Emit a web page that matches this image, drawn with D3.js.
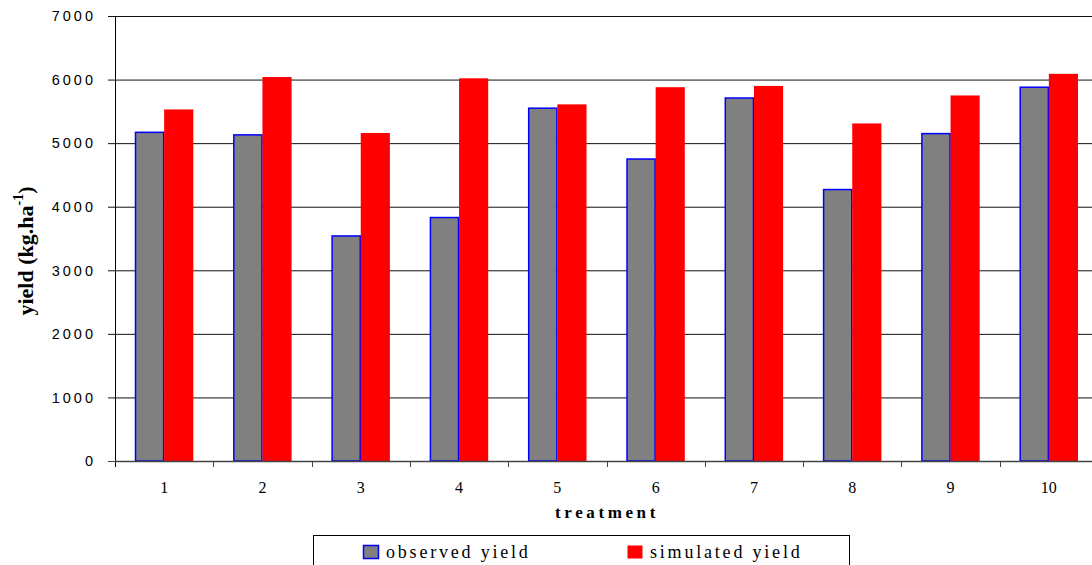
<!DOCTYPE html>
<html>
<head>
<meta charset="utf-8">
<script src="https://cdn.jsdelivr.net/npm/d3@7"></script>
<style>
  body { margin: 0; background: #fff; }
  svg { display: block; }
</style>
</head>
<body>
<div id="chart"></div>
<script>
// data
var treatments = ["1", "2", "3", "4", "5", "6", "7", "8", "9", "10"];
var observed = [5170, 5130, 3540, 3830, 5550, 4750, 5710, 4270, 5150, 5880];
var simulated = [5530, 6040, 5160, 6020, 5610, 5880, 5900, 5310, 5750, 6090];
var yTicks = [0, 1000, 2000, 3000, 4000, 5000, 6000, 7000];
var seriesNames = ["observed yield", "simulated yield"];

var width = 1092;
var height = 565;
var margin = {top: 16, right: -6, bottom: 104, left: 115};
var inner_width = width - margin.left - margin.right;
var inner_height = height - margin.top - margin.bottom;

var svg = d3.select("#chart")
            .append("svg")
            .attr("width", width)
            .attr("height", height);

var g = svg.append("g")
           .attr("transform", "translate(" + margin.left + "," + margin.top + ")");

var xScale = d3.scaleBand()
               .domain(treatments)
               .range([0, inner_width])
               .paddingInner(0)
               .paddingOuter(0);
var xInner = d3.scaleBand()
               .domain(["obs", "sim"])
               .range([20, xScale.bandwidth() - 20]);
var yScale = d3.scaleLinear()
               .domain([0, 7000])
               .range([inner_height, 0]);

// grid lines
g.selectAll(".grid")
 .data(yTicks)
 .enter().append("line")
 .attr("x1", -7)
 .attr("x2", inner_width)
 .attr("y1", function(d) { return yScale(d) + 0.5; })
 .attr("y2", function(d) { return yScale(d) + 0.5; })
 .attr("stroke", function(d) { return d === 0 ? "#444" : "#111"; })
 .attr("stroke-width", 1);

// y labels
g.selectAll(".ylab")
 .data(yTicks)
 .enter().append("text")
 .attr("x", -19)
 .attr("y", function(d) { return yScale(d); })
 .attr("dy", "0.36em")
 .attr("text-anchor", "end")
 .attr("font-family", "Liberation Sans, Arial, sans-serif")
 .attr("font-size", 14.5)
 .attr("letter-spacing", 3)
 .attr("fill", "#000")
 .text(function(d) { return d; });

// bars
var groups = g.selectAll(".grp")
              .data(treatments)
              .enter().append("g")
              .attr("transform", function(d) { return "translate(" + xScale(d) + ",0)"; });

groups.append("rect")
      .attr("x", xInner("obs") + 0.5)
      .attr("width", xInner.bandwidth() - 1)
      .attr("y", function(d, i) { return yScale(observed[i]); })
      .attr("height", function(d, i) { return inner_height - yScale(observed[i]); })
      .attr("fill", "#808080")
      .attr("stroke", "#0000ff")
      .attr("stroke-width", 1.5);

groups.append("rect")
      .attr("x", xInner("sim"))
      .attr("width", xInner.bandwidth())
      .attr("y", function(d, i) { return yScale(simulated[i]); })
      .attr("height", function(d, i) { return inner_height - yScale(simulated[i]); })
      .attr("fill", "#ff0000");

// axes lines
g.append("line")
 .attr("x1", 0.5).attr("x2", 0.5)
 .attr("y1", 0).attr("y2", inner_height + 6)
 .attr("stroke", "#000");

g.append("line")
 .attr("x1", 0).attr("x2", inner_width)
 .attr("y1", inner_height + 0.5).attr("y2", inner_height + 0.5)
 .attr("stroke", "#444").attr("stroke-width", 1.5);

// x ticks at band boundaries
g.selectAll(".xtick")
 .data(treatments.slice(1))
 .enter().append("line")
 .attr("x1", function(d) { return Math.round(xScale(d)) + 0.5; })
 .attr("x2", function(d) { return Math.round(xScale(d)) + 0.5; })
 .attr("y1", inner_height)
 .attr("y2", inner_height + 6)
 .attr("stroke", "#444");

// x labels
g.selectAll(".xlab")
 .data(treatments)
 .enter().append("text")
 .attr("x", function(d) { return xScale(d) + xScale.bandwidth() / 2; })
 .attr("y", inner_height + 32)
 .attr("text-anchor", "middle")
 .attr("font-family", "Liberation Serif, Times New Roman, serif")
 .attr("font-size", 16)
 .attr("fill", "#000")
 .text(function(d) { return d; });

// axis titles
svg.append("text")
   .attr("x", 607)
   .attr("y", 518)
   .attr("text-anchor", "middle")
   .attr("font-family", "Liberation Serif, Times New Roman, serif")
   .attr("font-size", 17)
   .attr("font-weight", "bold")
   .attr("letter-spacing", 3.6)
   .text("treatment");

var ytitle = svg.append("text")
   .attr("transform", "translate(33,251) rotate(-90)")
   .attr("text-anchor", "middle")
   .attr("font-family", "Liberation Serif, Times New Roman, serif")
   .attr("font-size", 22)
   .attr("font-weight", "bold");
ytitle.append("tspan").text("yield (kg.ha");
ytitle.append("tspan").attr("dy", -10).attr("font-size", 14).text("-1");
ytitle.append("tspan").attr("dy", 10).text(")");

// legend
svg.append("rect")
   .attr("x", 313.5)
   .attr("y", 535.5)
   .attr("width", 536)
   .attr("height", 40)
   .attr("fill", "#fff")
   .attr("stroke", "#000");

var legend = svg.selectAll(".leg")
                .data(seriesNames)
                .enter().append("g")
                .attr("transform", function(d, i) { return "translate(" + (i === 0 ? 363 : 627) + ",545)"; });

legend.append("rect")
      .attr("x", 0.5).attr("y", 0.5)
      .attr("width", 15).attr("height", 13)
      .attr("fill", function(d, i) { return i === 0 ? "#808080" : "#ff0000"; })
      .attr("stroke", function(d, i) { return i === 0 ? "#0000ff" : "none"; })
      .attr("stroke-width", 1.5);

legend.append("text")
      .attr("x", 23)
      .attr("y", 13)
      .attr("font-family", "Liberation Serif, Times New Roman, serif")
      .attr("font-size", 18)
      .attr("letter-spacing", 2.8)
      .text(function(d) { return d; });
</script>
</body>
</html>
